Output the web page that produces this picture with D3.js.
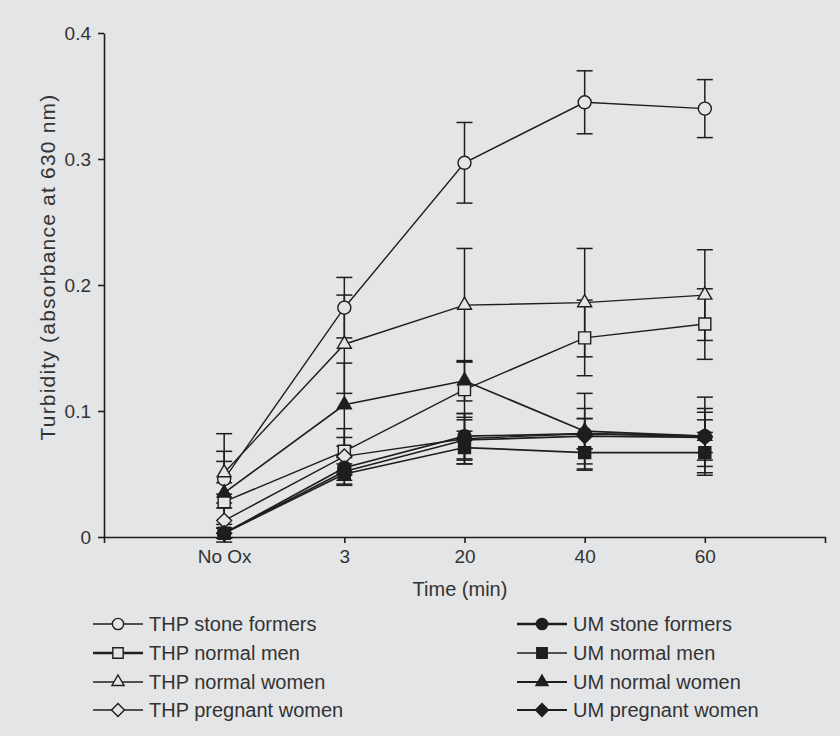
<!DOCTYPE html>
<html>
<head>
<meta charset="utf-8">
<script src="https://cdn.jsdelivr.net/npm/d3@7"></script>
<style>
  html, body { margin: 0; padding: 0; background: #e4e5e7; }
  svg text { font-family: "Liberation Sans", Arial, sans-serif; fill: #333; }
</style>
</head>
<body>
<svg class="chart" width="840" height="736"></svg>
<script>
// time points on the x axis
const times = ['No Ox', '3', '20', '40', '60'];
const yTicks = [0, 0.1, 0.2, 0.3, 0.4];

// means and standard errors
const thpStoneMean = [0.046, 0.182, 0.297, 0.345, 0.340];
const thpStoneErr  = [0.036, 0.024, 0.032, 0.025, 0.023];
const thpMenMean   = [0.028, 0.068, 0.117, 0.158, 0.169];
const thpMenErr    = [0.032, 0.018, 0.022, 0.030, 0.028];
const thpWomenMean = [0.051, 0.153, 0.184, 0.186, 0.192];
const thpWomenErr  = [0.017, 0.039, 0.045, 0.043, 0.036];
const thpPregMean  = [0.013, 0.064, 0.078, 0.082, 0.080];
const thpPregErr   = [0.010, 0.015, 0.020, 0.012, 0.019];
const umStoneMean  = [0.003, 0.055, 0.080, 0.082, 0.080];
const umStoneErr   = [0.004, 0.010, 0.018, 0.012, 0.013];
const umMenMean    = [0.003, 0.050, 0.071, 0.067, 0.067];
const umMenErr     = [0.004, 0.008, 0.013, 0.014, 0.016];
const umWomenMean  = [0.035, 0.105, 0.124, 0.084, 0.080];
const umWomenErr   = [0.008, 0.033, 0.016, 0.030, 0.031];
const umPregMean   = [0.003, 0.052, 0.077, 0.080, 0.079];
const umPregErr    = [0.004, 0.011, 0.016, 0.022, 0.023];

const seriesNames = ['THP stone formers', 'THP normal men', 'THP normal women', 'THP pregnant women',
                     'UM stone formers', 'UM normal men', 'UM normal women', 'UM pregnant women'];

const bg = '#e4e5e7';
const ink = '#1e1e1e';

const diamond = {
  draw(ctx, size) {
    const r = Math.sqrt(size / 2);
    ctx.moveTo(0, -r); ctx.lineTo(r, 0); ctx.lineTo(0, r); ctx.lineTo(-r, 0); ctx.closePath();
  }
};

const series = [
  { name: seriesNames[0], mean: thpStoneMean, err: thpStoneErr, shape: d3.symbolCircle,   size: 133, filled: false, lw: 1.3 },
  { name: seriesNames[1], mean: thpMenMean,   err: thpMenErr,   shape: d3.symbolSquare,   size: 144, filled: false, lw: 2.4 },
  { name: seriesNames[2], mean: thpWomenMean, err: thpWomenErr, shape: d3.symbolTriangle, size: 85,  filled: false, lw: 1.4 },
  { name: seriesNames[3], mean: thpPregMean,  err: thpPregErr,  shape: diamond,           size: 110, filled: false, lw: 1.3 },
  { name: seriesNames[4], mean: umStoneMean,  err: umStoneErr,  shape: d3.symbolCircle,   size: 133, filled: true,  lw: 2.6 },
  { name: seriesNames[5], mean: umMenMean,    err: umMenErr,    shape: d3.symbolSquare,   size: 144, filled: true,  lw: 1.6 },
  { name: seriesNames[6], mean: umWomenMean,  err: umWomenErr,  shape: d3.symbolTriangle, size: 85,  filled: true,  lw: 2 },
  { name: seriesNames[7], mean: umPregMean,   err: umPregErr,   shape: diamond,           size: 110, filled: true,  lw: 2 }
];

const svg = d3.select('.chart');

const x = d3.scalePoint().domain(times).range([104, 825]).padding(1);
const y = d3.scaleLinear().domain([0, 0.4]).range([537, 33]);

// y axis
const yAxis = svg.append('g')
  .attr('transform', 'translate(104,0)')
  .call(d3.axisLeft(y).tickValues(yTicks).tickSize(6).tickSizeOuter(0).tickPadding(7)
    .tickFormat(d => d === 0 ? '0' : d3.format('.1f')(d)));

// x axis
const xAxis = svg.append('g')
  .attr('transform', 'translate(0,537)')
  .call(d3.axisBottom(x).tickSize(6).tickSizeOuter(6).tickPadding(7));

[yAxis, xAxis].forEach(a => {
  a.selectAll('path, line').attr('stroke', ink).attr('stroke-width', 1.6);
  a.selectAll('text').style('font-size', '19px').attr('fill', '#333');
});

svg.append('text')
  .attr('x', 460).attr('y', 596)
  .attr('text-anchor', 'middle')
  .style('font-size', '20px')
  .text('Time (min)');

svg.append('text')
  .attr('transform', 'rotate(-90)')
  .attr('x', -267).attr('y', 55)
  .attr('text-anchor', 'middle')
  .style('font-size', '21px')
  .style('letter-spacing', '1.2px')
  .text('Turbidity (absorbance at 630 nm)');

const plot = svg.append('g');

const line = d3.line()
  .x((d, i) => x(times[i]))
  .y(d => y(d));

// connecting lines
plot.selectAll('.series-line')
  .data(series)
  .join('path')
  .attr('class', 'series-line')
  .attr('d', s => line(s.mean))
  .attr('fill', 'none')
  .attr('stroke', ink)
  .attr('stroke-width', s => s.filled ? 1.7 : 1.4);

// error bars
const bars = series.flatMap(s => s.mean.map((m, i) => ({ t: times[i], m, e: s.err[i] })));
const eb = plot.selectAll('.eb').data(bars).join('g').attr('class', 'eb')
  .attr('stroke', ink).attr('stroke-width', 1.5);
eb.append('line')
  .attr('x1', d => x(d.t)).attr('x2', d => x(d.t))
  .attr('y1', d => y(d.m - d.e)).attr('y2', d => y(d.m + d.e));
eb.append('line')
  .attr('x1', d => x(d.t) - 8).attr('x2', d => x(d.t) + 8)
  .attr('y1', d => y(d.m + d.e)).attr('y2', d => y(d.m + d.e));
eb.append('line')
  .attr('x1', d => x(d.t) - 8).attr('x2', d => x(d.t) + 8)
  .attr('y1', d => y(d.m - d.e)).attr('y2', d => y(d.m - d.e));

// markers
series.forEach(s => {
  plot.append('g').selectAll('path')
    .data(s.mean)
    .join('path')
    .attr('transform', (d, i) => `translate(${x(times[i])},${y(d)})`)
    .attr('d', d3.symbol().type(s.shape).size(s.size))
    .attr('fill', s.filled ? ink : bg)
    .attr('stroke', ink)
    .attr('stroke-width', 1.4);
});

// legend
const legendRows = [624, 653, 682, 710];
const legend = svg.append('g');
series.forEach((s, i) => {
  const col = i < 4 ? 0 : 1;
  const ly = legendRows[i % 4];
  const x0 = col === 0 ? 93 : 517;
  const g = legend.append('g').attr('transform', `translate(${x0},${ly})`);
  g.append('line').attr('x1', 0).attr('x2', 50).attr('y1', 0).attr('y2', 0)
    .attr('stroke', ink).attr('stroke-width', s.lw);
  g.append('path')
    .attr('transform', 'translate(25,0)')
    .attr('d', d3.symbol().type(s.shape).size(s.size * 0.75))
    .attr('fill', s.filled ? ink : bg)
    .attr('stroke', ink).attr('stroke-width', 1.4);
  g.append('text')
    .attr('x', 56).attr('y', 0).attr('dy', '0.35em')
    .style('font-size', '20px')
    .text(s.name);
});
</script>
</body>
</html>
